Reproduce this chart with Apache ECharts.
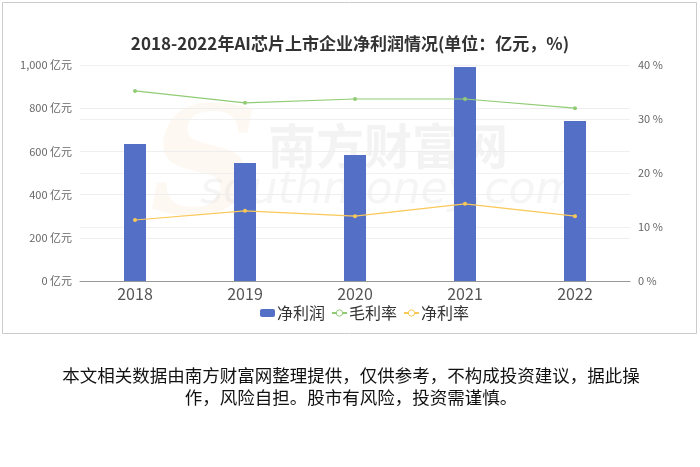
<!DOCTYPE html>
<html><head><meta charset="utf-8">
<script src="https://cdn.jsdelivr.net/npm/echarts@6/dist/echarts.min.js"></script>
<style>html,body{margin:0;padding:0;background:#fff;}#c{width:700px;height:467px;}</style>
</head><body><div id="c"></div>
<script>
const years = ['2018','2019','2020','2021','2022'];
const netProfit = [634, 546, 583, 991, 741];
const grossMargin = [35.2, 33.0, 33.7, 33.7, 32.0];
const netMargin = [11.3, 13.0, 12.0, 14.3, 12.0];
const leftTicks = {min:0, max:1000, interval:200};
const rightTicks = {min:0, max:40, interval:10};
const FONT = '"Noto Sans CJK SC","Noto Sans",sans-serif';
const chart = echarts.init(document.getElementById('c'));
chart.setOption({
  animation:false,
  textStyle:{fontFamily:FONT},
  color:['#5470c6','#91cc75','#fac858'],
  title:{text:'2018-2022年AI芯片上市企业净利润情况(单位：亿元，%)',left:'center',top:30,
    textStyle:{fontSize:17,fontWeight:'bold',color:'#333',fontFamily:FONT}},
  grid:{left:80,right:70,top:65,bottom:186},
  legend:{left:255,top:300,itemGap:6,itemWidth:15,itemHeight:8,textStyle:{fontSize:16,color:'#333',padding:[0,0,0,-3]},
    data:[{name:'净利润',icon:'roundRect',itemStyle:{color:'#5470c6'}},
      {name:'毛利率',itemStyle:{color:'#fff',borderColor:'#91cc75',borderWidth:1}},
      {name:'净利率',itemStyle:{color:'#fff',borderColor:'#fac858',borderWidth:1}}]},
  xAxis:{type:'category',data:years,axisLine:{lineStyle:{color:'#999'}},axisTick:{lineStyle:{color:'#999'}},
    axisLabel:{fontSize:16,color:'#555',margin:5}},
  yAxis:[
    {type:'value',min:leftTicks.min,max:leftTicks.max,interval:leftTicks.interval,
     axisLabel:{fontSize:11,color:'#666',formatter:v=>v.toLocaleString('en-US')+' 亿元'},
     splitLine:{lineStyle:{color:'#eee'}},axisLine:{show:false},axisTick:{show:false}},
    {type:'value',min:rightTicks.min,max:rightTicks.max,interval:rightTicks.interval,
     axisLabel:{fontSize:11,color:'#666',formatter:v=>v+' %'},
     splitLine:{lineStyle:{color:'#f0f0f0'}},axisLine:{show:false},axisTick:{show:false}}
  ],
  series:[
    {name:'净利润',type:'bar',data:netProfit,barWidth:22,itemStyle:{color:'#5470c6'}},
    {name:'毛利率',type:'line',yAxisIndex:1,data:grossMargin,symbol:'circle',symbolSize:4,
     lineStyle:{width:1.2,color:'#91cc75'},itemStyle:{color:'#91cc75'}},
    {name:'净利率',type:'line',yAxisIndex:1,data:netMargin,symbol:'circle',symbolSize:4,
     lineStyle:{width:1.2,color:'#fac858'},itemStyle:{color:'#fac858'}}
  ],
  graphic:[
    {type:'rect',shape:{x:2.5,y:2.5,width:694,height:331},style:{fill:'none',stroke:'#ccc',lineWidth:1},z:-10},
    {type:'text',left:268,top:122,z:-5,style:{text:'南方财富网',font:'bold 48px '+FONT,fill:'rgba(120,120,120,0.09)'}},
    {type:'text',left:200,top:170,z:-5,style:{text:'southmoney.com',font:'italic 44px "DejaVu Sans",sans-serif',fill:'rgba(120,120,120,0.07)'}},
    {type:'text',left:150,top:100,z:-6,style:{text:'S',font:'italic bold 150px "DejaVu Serif",serif',fill:'rgba(240,150,90,0.07)'}},
    {type:'text',z:10,style:{x:351,y:364,text:'本文相关数据由南方财富网整理提供，仅供参考，不构成投资建议，据此操\n作，风险自担。股市有风险，投资需谨慎。',
      font:'17.5px '+FONT,fill:'#111',textAlign:'center',align:'center',lineHeight:22}}
  ]
});
</script></body></html>
